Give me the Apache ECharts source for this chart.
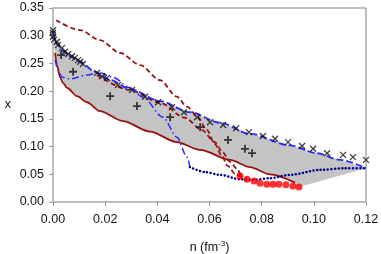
<!DOCTYPE html>
<html><head><meta charset="utf-8">
<script src="https://cdn.jsdelivr.net/npm/echarts@6/dist/echarts.min.js"></script>
<style>html,body{margin:0;padding:0;background:#fff}#c{width:381px;height:254px}</style>
</head><body><div id="c"></div>
<script>
// ---- data ----
var xTicks = [0, 0.02, 0.04, 0.06, 0.08, 0.10, 0.12];
var yTicks = [0, 0.05, 0.10, 0.15, 0.20, 0.25, 0.30, 0.35];
// upper bound (blue long dashes)
var blueDashed = [[0,0.307],[0.0008,0.296],[0.0019,0.283],[0.0038,0.272],[0.0065,0.263],[0.0104,0.253],[0.0161,0.235],[0.0219,0.220],[0.0295,0.204],[0.041,0.182],[0.0525,0.162],[0.064,0.143],[0.0755,0.123],[0.0909,0.102],[0.1012,0.088],[0.110,0.076],[0.12,0.061]];
// lower bound (dark red solid)
var redSolid = [[0.0008,0.269],[0.0015,0.247],[0.0027,0.225],[0.0038,0.215],[0.0054,0.206],[0.0092,0.191],[0.013,0.180],[0.018,0.164],[0.0268,0.146],[0.0372,0.127],[0.0475,0.108],[0.0564,0.094],[0.0679,0.076],[0.0755,0.063],[0.0832,0.050],[0.0928,0.035]];
var shadeCorner = [[0.0943,0.027]];
// dark red dashed curves
var redDashedA = [[0.0012,0.328],[0.0104,0.310],[0.018,0.292],[0.0257,0.269],[0.0334,0.247],[0.041,0.220],[0.0475,0.190],[0.0514,0.172],[0.0552,0.155],[0.059,0.130],[0.062,0.105],[0.0645,0.085],[0.067,0.065],[0.070,0.050],[0.0736,0.040]];
var redDashedB = [[0.0169,0.229],[0.0295,0.202],[0.041,0.179],[0.0506,0.152],[0.057,0.130],[0.062,0.108],[0.065,0.090],[0.068,0.072],[0.0705,0.060],[0.072,0.048]];
// blue dash-dot and dotted
var blueDashDot = [[0.0008,0.256],[0.0019,0.238],[0.0035,0.225],[0.0065,0.222],[0.013,0.229],[0.018,0.233],[0.023,0.225],[0.0295,0.206],[0.0345,0.189],[0.0422,0.153],[0.0475,0.117],[0.0514,0.081],[0.0525,0.063]];
var blueDotted = [[0.0525,0.063],[0.0583,0.054],[0.064,0.049],[0.0717,0.041],[0.0774,0.040],[0.0832,0.043],[0.0909,0.049],[0.1024,0.058],[0.112,0.061],[0.12,0.061]];
// markers
var crossPts = [[0,0.310],[0,0.305],[0,0.298],[0.0004,0.293],[0.0015,0.289],[0.0019,0.283],[0.0035,0.278],[0.0046,0.271],[0.0058,0.267],[0.0073,0.263],[0.0084,0.260],[0.0096,0.256],[0.0104,0.253],[0.0115,0.249],[0.0169,0.233],[0.0188,0.227],[0.0207,0.224],[0.0249,0.211],[0.0303,0.202],[0.0353,0.190],[0.0403,0.180],[0.0456,0.171],[0.0502,0.162],[0.0552,0.153],[0.0602,0.144],[0.0652,0.139],[0.0702,0.133],[0.0751,0.126],[0.0805,0.119],[0.0851,0.114],[0.0901,0.108],[0.0955,0.101],[0.0997,0.096],[0.1051,0.088],[0.1112,0.085],[0.115,0.081],[0.12,0.076]];
var plusPts = [[0.0031,0.265],[0.0077,0.235],[0.0219,0.191],[0.0322,0.173],[0.0449,0.153],[0.0564,0.135],[0.0671,0.112],[0.0736,0.096],[0.0763,0.088]];
var redDots = [[0.0717,0.047],[0.0744,0.041],[0.0771,0.038],[0.0794,0.034],[0.082,0.032],[0.0843,0.032],[0.0866,0.032],[0.0893,0.031],[0.092,0.029],[0.0943,0.027]];

// shaded polygon: upper boundary left->right, then lower boundary right->left
var shadePoly = blueDashed.concat(shadeCorner, redSolid.slice().reverse());

var DR = '#9a1010', BL = '#2a2aff', NV = '#00008b';
var FONT = 'Liberation Sans, Arial, sans-serif';
var chart = echarts.init(document.getElementById('c'), null, {renderer:'canvas'});
function lineS(data, color, type, width, cap){
  return {type:'line', data:data, showSymbol:false, smooth:0.3, smoothMonotone:'x', silent:true, z:3,
    lineStyle:{color:color, width:width, type:type, cap:cap||'butt'}};
}
function fmt(v){ return v.toFixed(2); }
chart.setOption({
  animation:false,
  grid:{left:53, right:15, top:8, bottom:52, containLabel:false, outerBoundsMode:'none',
    show:true, borderColor:'#7f7f7f', borderWidth:1},
  xAxis:{type:'value', min:0, max:0.12, interval:0.02,
    name:'{a|n (fm}{b|-3}{a|)}', nameLocation:'middle', nameGap:38,
    nameTextStyle:{rich:{a:{fontFamily:FONT, fontSize:12.5, color:'#111'}, b:{fontFamily:FONT, fontSize:8, color:'#111', verticalAlign:'top', padding:[0,0,8,0]}}},
    axisLine:{show:true, lineStyle:{color:'#bdbdbd', width:2}},
    axisTick:{show:true, length:4, lineStyle:{color:'#9a9a9a'}},
    splitLine:{show:false},
    axisLabel:{fontFamily:FONT, fontSize:12.5, color:'#111', margin:11, formatter:fmt}},
  yAxis:{type:'value', min:0, max:0.35, interval:0.05,
    name:'x', nameLocation:'middle', nameGap:42, nameRotate:0,
    nameTextStyle:{fontFamily:FONT, fontSize:12.5, color:'#111'},
    axisLine:{show:true, lineStyle:{color:'#bdbdbd', width:2}},
    axisTick:{show:true, length:4, lineStyle:{color:'#9a9a9a'}},
    splitLine:{show:false},
    axisLabel:{fontFamily:FONT, fontSize:12.5, color:'#111', margin:9, formatter:fmt}},
  series:[
    {type:'custom', silent:true, z:1, data:[0], renderItem:function(params, api){
      var pts = shadePoly.map(function(p){return api.coord(p);});
      return {type:'polygon', shape:{points:pts}, style:{fill:'#c4c4c4', stroke:null}};
    }},
    lineS(redSolid, DR, 'solid', 1.8),
    lineS(redDashedA, DR, [5,3], 1.8),
    lineS(redDashedB, DR, [5,3], 1.8),
    lineS(blueDashed, BL, [7,3], 1.8),
    lineS(blueDashDot, BL, [7,3,1.5,3], 1.5),
    lineS(blueDotted, NV, [0.1,3.5], 2.5, 'round'),
    {type:'scatter', data:redDots, symbol:'circle', symbolSize:7, z:5, itemStyle:{color:'#ff0000'}},
    {type:'scatter', data:crossPts, symbol:'path://M0,0L10,10M10,0L0,10', symbolSize:6, z:6,
      itemStyle:{color:'none', borderColor:'#111', borderWidth:1.3}},
    {type:'scatter', data:plusPts, symbol:'path://M5,0L5,10M0,5L10,5', symbolSize:8, z:6,
      itemStyle:{color:'none', borderColor:'#111', borderWidth:1.8}}
  ]
});
</script></body></html>
